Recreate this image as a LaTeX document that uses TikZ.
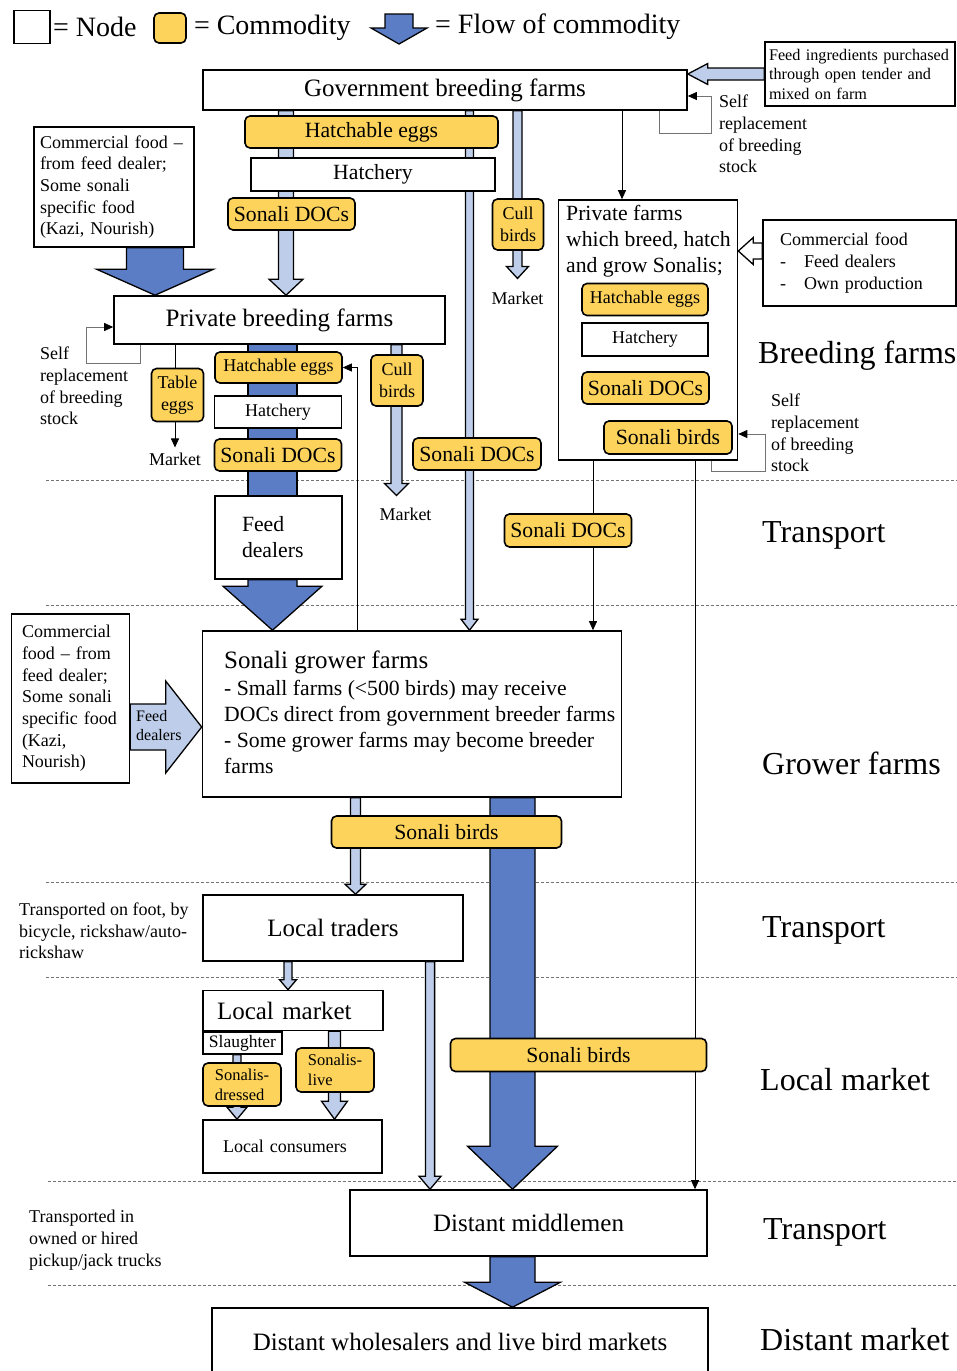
\documentclass[tikz,border=0pt]{standalone}
\usepackage{fontspec}
\setmainfont{Liberation Serif}
\usetikzlibrary{arrows.meta,positioning,calc,backgrounds}
\definecolor{goldc}{RGB}{253,211,92}
\definecolor{deepblue}{RGB}{90,125,198}
\definecolor{paleblue}{RGB}{190,206,234}

\newcommand{\fsec}{\fontsize{32}{38}\selectfont}
\newcommand{\fleg}{\fontsize{28}{33}\selectfont}
\newcommand{\fbig}{\fontsize{25}{30}\selectfont}
\newcommand{\fmid}{\fontsize{21.7}{26}\selectfont}
\newcommand{\fsml}{\fontsize{18}{21.7}\selectfont}
\newcommand{\ftiny}{\fontsize{16.2}{19.5}\selectfont}

% block arrow going down: [style]{x}{from}{to}{shaft half}{head half}{head length}
\newcommand{\vflow}[7][]{%
  \path[#1] let \p1=(#3), \p2=(#4) in
    ({#2pt-#5pt},\y1) -- ({#2pt-#5pt},{\y2+#7pt}) -- ({#2pt-#6pt},{\y2+#7pt})
    -- (#2pt,\y2) -- ({#2pt+#6pt},{\y2+#7pt}) -- ({#2pt+#5pt},{\y2+#7pt})
    -- ({#2pt+#5pt},\y1) -- cycle;}
% block arrow going sideways: [style]{y}{from}{to}{shaft half}{head half}{head length}
\newcommand{\hflow}[7][]{%
  \path[#1] let \p1=(#3), \p2=(#4) in
    (\x1,{-#2pt-#5pt}) -- ({\x2+(#7pt)},{-#2pt-#5pt}) -- ({\x2+(#7pt)},{-#2pt-#6pt})
    -- (\x2,{-#2pt}) -- ({\x2+(#7pt)},{-#2pt+#6pt}) -- ({\x2+(#7pt)},{-#2pt+#5pt})
    -- (\x1,{-#2pt+#5pt}) -- cycle;}

\begin{document}
\begin{tikzpicture}[x=1pt,y=-1pt]
	\tikzstyle{site}=[draw, line width=1.6pt, fill=white, inner sep=0pt]
	\tikzstyle{good}=[site, fill=goldc, rounded corners=5pt]
	\tikzstyle{txt}=[inner sep=0pt, align=left]
	\tikzstyle{lflow}=[draw, line width=1.3pt, fill=paleblue]
	\tikzstyle{dflow}=[draw, line width=1.3pt, fill=deepblue]
	\tikzstyle{wflow}=[draw, line width=1.3pt, fill=white]
	\tikzstyle{link}=[line width=0.8pt, -{Triangle[length=9pt,width=8pt]}]
	\tikzstyle{thinl}=[line width=0.8pt, draw=black!55]
	\tikzstyle{loopl}=[line width=0.8pt, draw=black!55, -{Triangle[length=9pt,width=8pt,color=black]}]
	\tikzstyle{sep}=[draw=black!55, line width=0.8pt, dash pattern=on 3pt off 2pt]
	\useasboundingbox (0,0) rectangle (957,1371);
	\clip (0,0) rectangle (957,1371);

	\node[site, minimum width=36, minimum height=33](legsite) at (32,27){};
	\node[txt, font=\fleg, right=2pt of legsite](legsitetxt){= Node};
	\node[good, minimum width=32, minimum height=30](leggood) at (170,28){};
	\node[txt, font=\fleg, right=7pt of leggood](leggoodtxt){= Commodity};
	\path[dflow] (385,14) -- (385,28) -- (371,28) -- (399,44) -- (427,28) -- (413,28) -- (413,14) -- cycle;
	\node[txt, font=\fleg, anchor=west](legflowtxt) at (435,27){= Flow of commodity};

	\node[site, font=\fbig, minimum width=484, minimum height=40](gov) at (445,90){Government breeding farms};
	\node[site, font=\ftiny, align=left, text width=182, inner xsep=4pt, minimum height=64](feed) at (860,74){Feed ingredients purchased\\through open tender and\\mixed on farm};
	\node[txt, font=\fsml, anchor=west](govself) at (719,134){Self\\replacement\\of breeding\\stock};
	\node[good, font=\fmid, minimum width=253, minimum height=32](geggs) at (371.5,132){Hatchable eggs};
	\node[site, font=\fmid, minimum width=244, minimum height=33](ghatch) at (373,174.5){Hatchery};
	\node[good, font=\fmid, minimum width=127, minimum height=32](gdocs) at (291.5,214){Sonali DOCs};
	\node[good, font=\fsml, align=center, minimum width=51, minimum height=51](gcull) at (518,224.5){Cull\\birds};
	\node[txt, font=\fsml](gmkt) at (517.5,298){Market};

	\node[site, font=\fsml, align=left, text width=148, inner xsep=6pt, minimum height=120](cfood) at (114,187){Commercial food –\\from feed dealer;\\Some sonali\\specific food\\(Kazi, Nourish)};
	\node[site, font=\fbig, minimum width=331, minimum height=48](pbf) at (279.5,320){Private breeding farms};
	\node[txt, font=\fsml, anchor=west](pbfself) at (40,386){Self\\replacement\\of breeding\\stock};
	\node[good, font=\fsml, align=center, minimum width=52, minimum height=53](table) at (177.5,395){Table\\eggs};
	\node[txt, font=\fsml](pmkt) at (175,459){Market};
	\node[good, font=\fsml, minimum width=127, minimum height=31](peggs) at (278.5,367.5){Hatchable eggs};
	\node[site, font=\fsml, minimum width=127, minimum height=32](phatch) at (278,412){Hatchery};
	\node[good, font=\fmid, minimum width=127, minimum height=32](pdocs) at (278,455){Sonali DOCs};
	\node[site, font=\fmid, align=left, text width=73, minimum width=127, minimum height=83](fdeal) at (278.5,537.5){Feed\\dealers};
	\node[good, font=\fsml, align=center, minimum width=52, minimum height=51](pcull) at (397,380.5){Cull\\birds};
	\node[txt, font=\fsml](cmkt) at (405.5,514){Market};
	\node[good, font=\fmid, minimum width=128, minimum height=32](mdocs) at (477,454){Sonali DOCs};

	\node[site, minimum width=179, minimum height=260](pf) at (648,330){};
	\node[txt, font=\fmid, anchor=west](pftxt) at (566,241){Private farms\\which breed, hatch\\and grow Sonalis;};
	\node[good, font=\fsml, minimum width=126, minimum height=32](reggs) at (645,299.5){Hatchable eggs};
	\node[site, font=\fsml, minimum width=126, minimum height=33](rhatch) at (645,339.5){Hatchery};
	\node[good, font=\fmid, minimum width=127, minimum height=32](rdocs) at (645.5,388){Sonali DOCs};
	\node[good, font=\fmid, minimum width=128, minimum height=33](rbirds) at (668,437.5){Sonali birds};
	\node[txt, font=\fsml, anchor=west](rself) at (771,433){Self\\replacement\\of breeding\\stock};
	\node[site, font=\fsml, align=left, text width=159, inner xsep=17pt, minimum height=86](rfood) at (859.5,263){Commercial food\\\makebox[24pt][l]{-}Feed dealers\\\makebox[24pt][l]{-}Own production};
	\node[good, font=\fmid, minimum width=127, minimum height=33](tdocs) at (568,530.5){Sonali DOCs};

	\node[site, minimum width=419, minimum height=166](grow) at (412,714){};
	\node[txt, font=\fmid, anchor=west](growtxt) at (224,712){{\fbig Sonali grower farms}\\[1pt]- Small farms (<500 birds) may receive\\DOCs direct from government breeder farms\\- Some grower farms may become breeder\\farms};
	\node[site, font=\fsml, align=left, text width=97, inner xsep=10.5pt, minimum height=169](cfood2) at (70.5,698.5){Commercial\\food – from\\feed dealer;\\Some sonali\\specific food\\(Kazi,\\Nourish)};
	\node[txt, font=\fontsize{16}{19}\selectfont, anchor=west](fdlab) at (136,726){Feed\\dealers};

	\node[good, font=\fmid, minimum width=230, minimum height=32](gbirds) at (446.5,832){Sonali birds};
	\node[site, font=\fbig, minimum width=260, minimum height=66](ltrad) at (333,928){Local traders};
	\node[txt, font=\fsml, anchor=west](foot) at (19,931){Transported on foot, by\\bicycle, rickshaw/auto-\\rickshaw};
	\node[site, font=\fbig, align=left, text width=152, inner xsep=14pt, minimum height=40](lmkt) at (293,1010.5){Local market};
	\node[site, font=\fontsize{17.5}{21}\selectfont, minimum width=79, minimum height=22](slaugh) at (242.5,1043){Slaughter};
	\node[good, font=\fontsize{16.5}{20}\selectfont, align=left, minimum width=78, minimum height=43](dressed) at (242,1084.5){Sonalis-\\dressed};
	\node[good, font=\fontsize{16.5}{20}\selectfont, align=left, minimum width=78, minimum height=44](live) at (335,1070){Sonalis-\\live};
	\node[site, font=\fsml, align=left, text width=139, inner xsep=20pt, minimum height=53](lcons) at (292.5,1146.5){Local consumers};
	\node[good, font=\fmid, minimum width=256, minimum height=33](dbirds) at (578.5,1055){Sonali birds};
	\node[site, font=\fbig, minimum width=357, minimum height=66](dmid) at (528.5,1223){Distant middlemen};
	\node[txt, font=\fsml, anchor=west](trucks) at (29,1240){Transported in\\owned or hired\\pickup/jack trucks};
	\node[site, font=\fbig, minimum width=496, minimum height=68](dwhole) at (460,1342){Distant wholesalers and live bird markets};

	\node[txt, font=\fsec, anchor=west](lbreed) at (758,356){Breeding farms};
	\node[txt, font=\fsec, anchor=west](ltrans1) at (762,535){Transport};
	\node[txt, font=\fsec, anchor=west](lgrow) at (762,763){Grower farms};
	\node[txt, font=\fsec, anchor=west](ltrans2) at (762,930){Transport};
	\node[txt, font=\fsec, anchor=west](llocal) at (760,1080){Local market};
	\node[txt, font=\fsec, anchor=west](ltrans3) at (763,1232){Transport};
	\node[txt, font=\fsec, anchor=west](ldist) at (760,1340){Distant market};

	\begin{pgfonlayer}{background}
	\foreach \yy/\xx in {480/46, 605/46, 882/46, 977/46, 1181/48, 1285/48}
		\draw[sep] (\xx,\yy) -- (957,\yy);

	\vflow[lflow]{286}{gov.south}{pbf.north}{7.5}{17}{16}
	\vflow[lflow]{469.5}{gov.south}{grow.north}{4}{8.5}{11}
	\vflow[lflow]{517.5}{gov.south}{[yshift=13pt]gmkt.north}{4.5}{11}{12}
	\vflow[dflow]{155}{cfood.south}{pbf.north}{28.5}{58.5}{26}
	\vflow[dflow]{272.5}{pbf.south}{fdeal.north}{24.5}{24.5}{0}
	\vflow[dflow]{272.5}{fdeal.south}{grow.north}{24.5}{49.5}{44}
	\vflow[lflow]{396.5}{pbf.south}{[yshift=12pt]cmkt.north}{5.5}{12}{12}
	\vflow[lflow]{355.5}{grow.south}{ltrad.north}{5}{10.5}{10}
	\vflow[dflow]{512.5}{grow.south}{dmid.north}{22.5}{45}{43}
	\vflow[lflow]{288}{ltrad.south}{lmkt.north}{4}{8.5}{10}
	\vflow[lflow]{430}{ltrad.south}{dmid.north}{4.6}{11}{13}
	\vflow[lflow]{237}{slaugh.south}{lcons.north}{4}{10}{12}
	\vflow[lflow]{334.5}{lmkt.south}{lcons.north}{6}{13}{18}
	\vflow[dflow]{512.5}{dmid.south}{dwhole.north}{22.5}{48}{25}
	\hflow[lflow]{74}{feed.west}{gov.east}{6}{10.5}{20}
	\hflow[wflow]{251}{rfood.west}{pf.east}{8}{13.5}{15}
	\hflow[lflow]{727}{cfood2.east}{grow.west}{23}{46}{-36}

	\draw[link] ([xshift=177pt]gov.south) -- ([xshift=-26pt]pf.north);
	\draw[loopl] ([xshift=214pt]gov.south) |- (711,133) |- ([yshift=-6pt]gov.east);
	\draw[loopl] ([xshift=-139.5pt]pbf.south) |- (86,363) |- ([yshift=-7pt]pbf.west);
	\draw[link] ([xshift=-104.5pt]pbf.south) -- ([yshift=5pt]pmkt.north);
	\draw[link] ([xshift=-55pt]grow.north) |- (peggs.east);
	\draw[thinl] ([xshift=-3pt]reggs.south) -- ([xshift=-3pt]rhatch.north);
	\draw[link] ([xshift=-2pt]rhatch.south) -- ([xshift=-2.5pt]rdocs.north);
	\draw[link] ([xshift=14.5pt]rdocs.south) -- ([xshift=-8pt]rbirds.north);
	\draw[loopl] ([xshift=43pt]rbirds.south) |- (765,471) |- ([yshift=-104pt]pf.east);
	\draw[link] ([xshift=-52.5pt]rdocs.south) -- ([xshift=181pt]grow.north);
	\draw[link] ([xshift=27pt]rbirds.south) -- ([xshift=166.5pt]dmid.north);
	\end{pgfonlayer}
\end{tikzpicture}
\end{document}
